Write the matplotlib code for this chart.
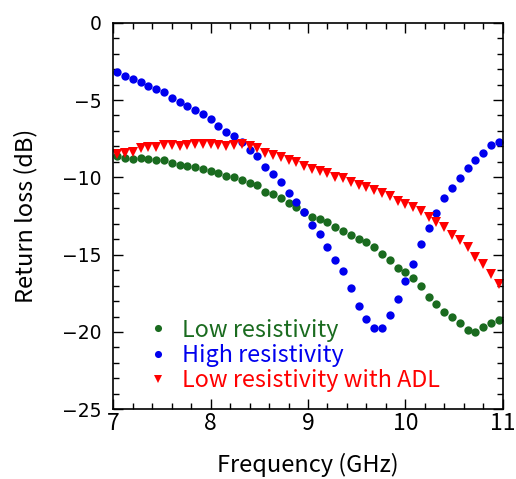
import numpy as np
import matplotlib
matplotlib.use("Agg")
import matplotlib.pyplot as plt
from matplotlib.ticker import MultipleLocator

plt.rcParams['font.family'] = ['Noto Sans CJK JP', 'DejaVu Sans']

freq = [7.04, 7.12, 7.20, 7.28, 7.36, 7.44, 7.52, 7.60, 7.68, 7.76,
        7.84, 7.92, 8.00, 8.08, 8.16, 8.24, 8.32, 8.40, 8.48, 8.56,
        8.64, 8.72, 8.80, 8.88, 8.96, 9.04, 9.12, 9.20, 9.28, 9.36,
        9.44, 9.52, 9.60, 9.68, 9.76, 9.84, 9.92, 10.00, 10.08, 10.16,
        10.24, 10.32, 10.40, 10.48, 10.56, 10.64, 10.72, 10.80, 10.88, 10.96]

low_res = [-8.64, -8.74, -8.80, -8.78, -8.82, -8.88, -8.86, -9.07, -9.20, -9.25,
           -9.34, -9.45, -9.58, -9.74, -9.92, -9.96, -10.15, -10.37, -10.50, -10.94,
           -11.10, -11.35, -11.64, -11.92, -12.22, -12.59, -12.70, -12.91, -13.24, -13.45,
           -13.73, -14.01, -14.17, -14.53, -14.96, -15.35, -15.85, -16.11, -16.53, -17.01,
           -17.72, -18.22, -18.69, -19.02, -19.44, -19.88, -20.03, -19.70, -19.44, -19.23]

high_res = [-3.21, -3.45, -3.66, -3.81, -4.09, -4.31, -4.48, -4.85, -5.13, -5.37,
            -5.65, -5.91, -6.21, -6.68, -7.09, -7.33, -7.72, -8.23, -8.62, -9.31,
            -9.77, -10.30, -11.00, -11.60, -12.22, -13.09, -13.69, -14.49, -15.35, -16.06,
            -17.16, -18.33, -19.17, -19.73, -19.77, -18.91, -17.85, -16.71, -15.63, -14.29,
            -13.28, -12.29, -11.34, -10.71, -10.07, -9.42, -8.90, -8.41, -7.93, -7.74]

low_res_adl = [-8.49, -8.45, -8.34, -8.13, -8.06, -8.02, -7.91, -7.91, -7.95, -7.91,
               -7.87, -7.85, -7.85, -7.91, -7.95, -7.91, -7.87, -7.98, -8.13, -8.45,
               -8.56, -8.66, -8.88, -9.04, -9.27, -9.48, -9.57, -9.74, -9.96, -10.07,
               -10.32, -10.50, -10.65, -10.82, -11.04, -11.21, -11.51, -11.70, -11.94, -12.17,
               -12.55, -12.87, -13.23, -13.73, -14.06, -14.49, -15.14, -15.63, -16.25, -16.90]

labels = ["Low resistivity", "High resistivity", "Low resistivity with ADL"]
colors = ["#1a6b1f", "#0000ee", "#ff0000"]
ytick_vals = [0, -5, -10, -15, -20, -25]
xtick_vals = [7, 8, 9, 10, 11]

fig = plt.figure(figsize=(5.16, 4.79), dpi=100)
ax = fig.add_axes([0.2196, 0.1455, 0.7546, 0.8071])

ax.plot(freq, low_res, 'o', color=colors[0], markersize=6, markeredgewidth=0, label=labels[0])
ax.plot(freq, high_res, 'o', color=colors[1], markersize=6, markeredgewidth=0, label=labels[1])
ax.plot(freq, low_res_adl, 'v', color=colors[2], markersize=7.5, markeredgewidth=0, label=labels[2])

ax.set_xlim(7, 11)
ax.set_ylim(-25, 0)
ax.set_xticks(xtick_vals)
ax.set_yticks(ytick_vals)
ax.set_yticklabels(["\u2212%d" % abs(v) if v < 0 else "%d" % v for v in ytick_vals],
                   family='DejaVu Sans', fontsize=13.5)
ax.set_xticklabels([str(v) for v in xtick_vals], fontsize=16.5)
ax.xaxis.set_minor_locator(MultipleLocator(0.2))
ax.yaxis.set_minor_locator(MultipleLocator(1))
ax.tick_params(which='both', direction='in', top=True, right=True, width=1)
ax.tick_params(which='major', length=7)
ax.tick_params(which='minor', length=4)
ax.tick_params(axis='y', pad=8.5)
ax.tick_params(axis='x', pad=2)
for s in ax.spines.values():
    s.set_linewidth(1.2)

ax.set_xlabel("Frequency (GHz)", fontsize=17, labelpad=13)
ax.set_ylabel("Return loss (dB)", fontsize=17, labelpad=18)

leg = ax.legend(loc='lower left', frameon=False, fontsize=16.8, handletextpad=0.53,
                handlelength=1.0, labelspacing=0.1, borderaxespad=0.0,
                markerscale=0.85, bbox_to_anchor=(0.061, 0.02))
for txt, c in zip(leg.get_texts(), colors):
    txt.set_color(c)

fig.savefig("out.png", dpi=100)
